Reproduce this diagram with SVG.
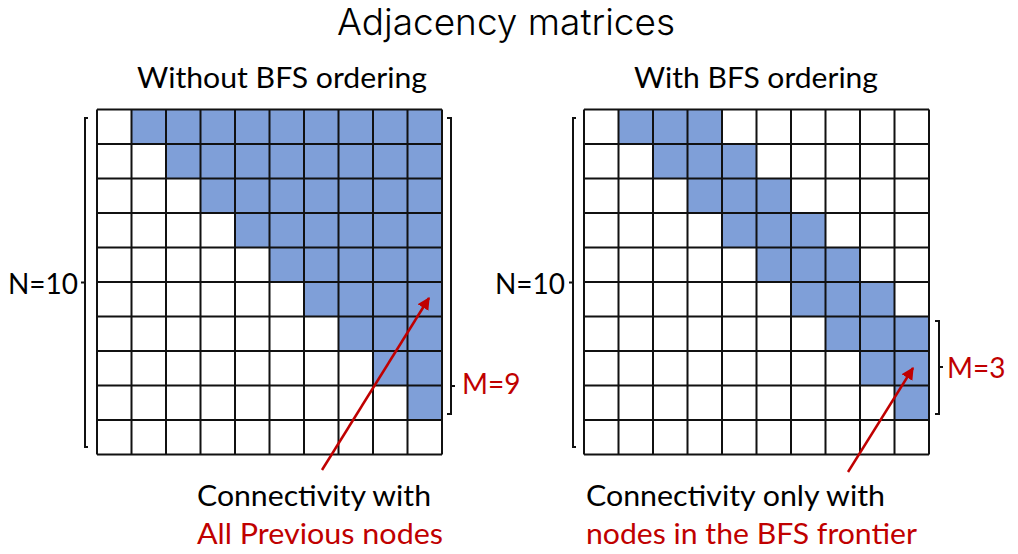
<svg xmlns="http://www.w3.org/2000/svg" width="1018" height="554" viewBox="0 0 1018 554">
<style>
.t{font-family:Lato,"Open Sans","Liberation Sans",sans-serif;font-size:28px;fill:#000}
.r{fill:#C00000}
.title{font-family:Inter,Lato,"Liberation Sans",sans-serif;font-weight:300;font-size:37px;fill:#000}
.cell{fill:#7F9FD8}
.grid{fill:none;stroke:#111;stroke-width:2}
.br{fill:none;stroke:#111;stroke-width:2}
.arr{stroke:#C00000;stroke-width:2.5;fill:none}
</style>
<defs>
<marker id="ah" viewBox="0 0 10 10" refX="9" refY="5" markerWidth="5" markerHeight="5" orient="auto" markerUnits="strokeWidth">
<path d="M0,0 L10,5 L0,10 z" fill="#C00000"/>
</marker>
<path id="gl" class="grid" d="M0 0V345M34.5 0V345M69 0V345M103.5 0V345M138 0V345M172.5 0V345M207 0V345M241.5 0V345M276 0V345M310.5 0V345M345 0V345M0 0H345M0 34.5H345M0 69H345M0 103.5H345M0 138H345M0 172.5H345M0 207H345M0 241.5H345M0 276H345M0 310.5H345M0 345H345"/>
</defs>
<rect width="1018" height="554" fill="#fff"/>
<text class="title" x="506" y="35" text-anchor="middle" textLength="338" lengthAdjust="spacingAndGlyphs">Adjacency matrices</text>
<g id="left-matrix">
<text class="t" x="282" y="88" text-anchor="middle" textLength="290" lengthAdjust="spacingAndGlyphs">Without BFS ordering</text>
<rect class="cell" x="131.5" y="109.5" width="310.5" height="34.5"/>
<rect class="cell" x="166" y="144" width="276" height="34.5"/>
<rect class="cell" x="200.5" y="178.5" width="241.5" height="34.5"/>
<rect class="cell" x="235" y="213" width="207" height="34.5"/>
<rect class="cell" x="269.5" y="247.5" width="172.5" height="34.5"/>
<rect class="cell" x="304" y="282" width="138" height="34.5"/>
<rect class="cell" x="338.5" y="316.5" width="103.5" height="34.5"/>
<rect class="cell" x="373" y="351" width="69" height="34.5"/>
<rect class="cell" x="407.5" y="385.5" width="34.5" height="34.5"/>
<use href="#gl" x="97" y="109.5"/>
<path class="br" d="M88 118H85V447H88M85 282.5H81"/>
<path class="br" d="M447 118H451V414H447M451 386H455"/>
<text class="t" x="78" y="294" text-anchor="end">N=10</text>
<text class="t r" x="462" y="394">M=9</text>
</g>
<g id="right-matrix">
<text class="t" x="756" y="88" text-anchor="middle" textLength="244" lengthAdjust="spacingAndGlyphs">With BFS ordering</text>
<rect class="cell" x="618.5" y="109.5" width="103.5" height="34.5"/>
<rect class="cell" x="653" y="144" width="103.5" height="34.5"/>
<rect class="cell" x="687.5" y="178.5" width="103.5" height="34.5"/>
<rect class="cell" x="722" y="213" width="103.5" height="34.5"/>
<rect class="cell" x="756.5" y="247.5" width="103.5" height="34.5"/>
<rect class="cell" x="791" y="282" width="103.5" height="34.5"/>
<rect class="cell" x="825.5" y="316.5" width="103.5" height="34.5"/>
<rect class="cell" x="860" y="351" width="69" height="34.5"/>
<rect class="cell" x="894.5" y="385.5" width="34.5" height="34.5"/>
<use href="#gl" x="584" y="109.5"/>
<path class="br" d="M576 118H573V447H576M573 282.5H569"/>
<path class="br" d="M935 321H939V414H935M939 367H943"/>
<text class="t" x="565" y="294" text-anchor="end">N=10</text>
<text class="t r" x="947" y="378">M=3</text>
</g>
<g id="label-left">
<text class="t" x="197" y="506" textLength="234" lengthAdjust="spacingAndGlyphs">Connectivity with</text>
<text class="t r" x="197" y="544" textLength="246" lengthAdjust="spacingAndGlyphs">All Previous nodes</text>
</g>
<g id="label-right">
<text class="t" x="586" y="506" textLength="299" lengthAdjust="spacingAndGlyphs">Connectivity only with</text>
<text class="t r" x="586" y="544" textLength="331" lengthAdjust="spacingAndGlyphs">nodes in the BFS frontier</text>
</g>
<g id="connectors">
<line class="arr" x1="322" y1="470" x2="429" y2="298" marker-end="url(#ah)"/>
<line class="arr" x1="848" y1="472" x2="913" y2="368" marker-end="url(#ah)"/>
</g>
</svg>
